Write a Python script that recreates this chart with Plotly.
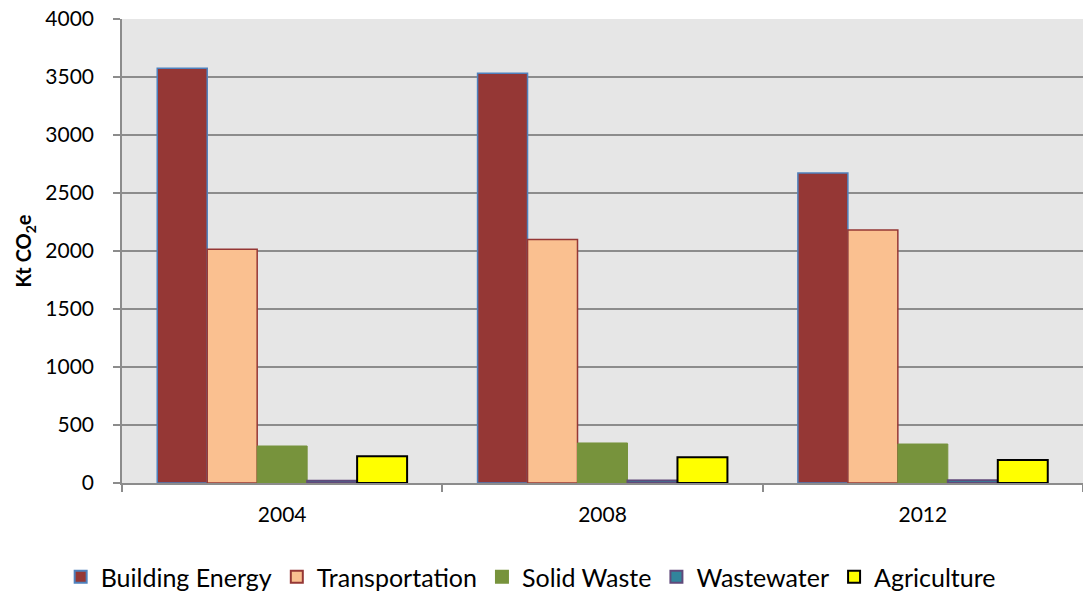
import plotly.graph_objects as go

years = ["2004", "2008", "2012"]
series_names = ["Building Energy", "Transportation", "Solid Waste", "Wastewater", "Agriculture"]
building_energy = [3575, 3532, 2672]
transportation = [2015, 2100, 2181]
solid_waste = [319, 345, 336]
wastewater = [20, 21, 23]
agriculture = [230, 221, 198]
y_ticks = [0, 500, 1000, 1500, 2000, 2500, 3000, 3500, 4000]

fills = ["#953735", "#FAC090", "#77933C", "#31859C", "#FFFF00"]
edges = ["#4F81BD", "#953735", "#77933C", "#604A7B", "#000000"]
edge_w = [1.5, 1.5, 1, 2, 2]

fig = go.Figure()
for name, vals, fc, ec, w in zip(series_names,
                                 [building_energy, transportation, solid_waste, wastewater, agriculture],
                                 fills, edges, edge_w):
    fig.add_trace(go.Bar(x=years, y=vals, name=name,
                         marker=dict(color=fc, line=dict(color=ec, width=w))))

font_family = "Lato, 'Open Sans', sans-serif"
fig.update_layout(
    width=1083, height=598,
    margin=dict(l=122, r=0, t=19, b=115, autoexpand=False),
    paper_bgcolor="white",
    plot_bgcolor="#E6E6E6",
    barmode="group",
    bargap=0.22,
    bargroupgap=0,
    font=dict(family=font_family, size=21, color="#000000"),
    showlegend=True,
    legend=dict(orientation="h", xref="container", yref="container",
                x=0.49, xanchor="center", y=0.035, yanchor="middle",
                font=dict(size=25, family=font_family), traceorder="normal",
                itemsizing="constant", bgcolor="rgba(0,0,0,0)"),
)
fig.update_xaxes(
    type="category", tickson="boundaries", ticks="outside", ticklen=7,
    tickcolor="#8C8C8C", tickwidth=1.5,
    showline=True, linecolor="#8C8C8C", linewidth=1.5,
    showgrid=False, tickfont=dict(size=21), ticklabelstandoff=12,
)
fig.update_yaxes(
    range=[0, 4000], tickvals=y_ticks, ticktext=[str(v) for v in y_ticks],
    ticks="outside", ticklen=7, tickcolor="#8C8C8C", tickwidth=1.5,
    showline=True, linecolor="#8C8C8C", linewidth=1.5,
    showgrid=True, gridcolor="#8C8C8C", gridwidth=1.5,
    zeroline=False, tickfont=dict(size=21), ticklabelstandoff=15,
    title=dict(text="<b>Kt CO<sub>2</sub>e</b>", font=dict(size=20), standoff=8),
)

fig.write_html("out.html")
